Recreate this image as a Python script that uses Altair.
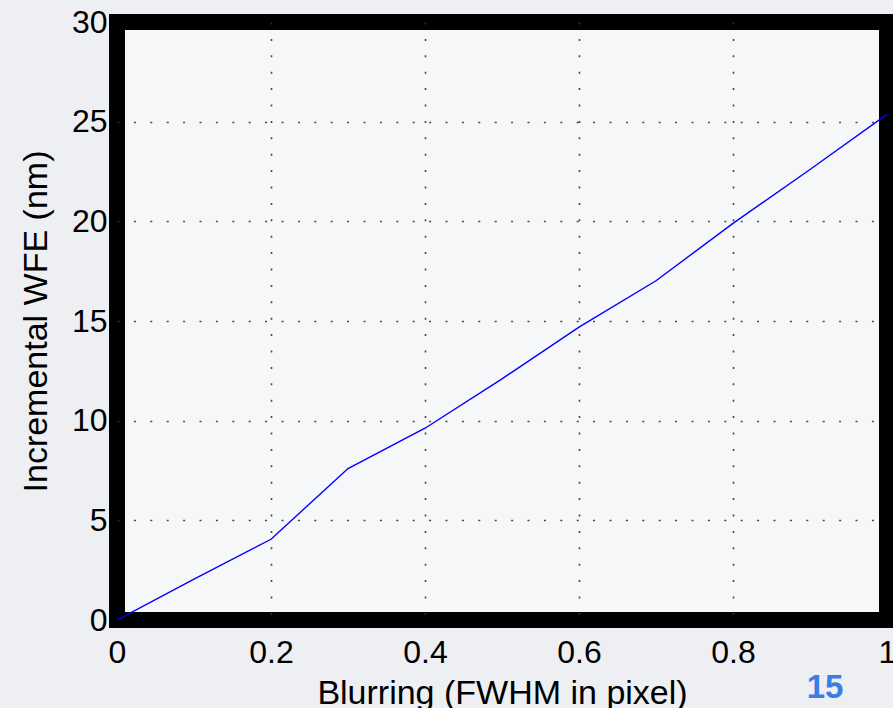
import altair as alt
import pandas as pd

blur = [0.0, 0.1, 0.2, 0.3, 0.4, 0.5, 0.6, 0.7, 0.8, 0.9, 1.0]
wfe = [0.0, 2.05, 4.05, 7.6, 9.62, 12.1, 14.69, 17.02, 19.9, 22.6, 25.37]
x_ticks = [0, 0.2, 0.4, 0.6, 0.8, 1]
y_ticks = [0, 5, 10, 15, 20, 25, 30]
page_number = ["15"]

df = pd.DataFrame({"blur": blur, "wfe": wfe})

FONT = "Liberation Sans"

x_grid_op = {"condition": {"test": "datum.value <= 0 || datum.value >= 1", "value": 0}, "value": 0.9}
y_grid_op = {"condition": {"test": "datum.value <= 0 || datum.value >= 30", "value": 0}, "value": 0.9}

line = alt.Chart(df).mark_line(color="#0000ff", strokeWidth=1.4, clip=True).encode(
    x=alt.X(
        "blur:Q",
        scale=alt.Scale(domain=[0, 1], nice=False, zero=False),
        axis=alt.Axis(
            values=x_ticks,
            format="~g",
            title="Blurring (FWHM in pixel)",
            titleFont=FONT,
            titleFontSize=34,
            titleFontWeight="normal",
            titleColor="#000000",
            titleBaseline="alphabetic",
            titleY=83,
            labelFont=FONT,
            labelFontSize=32,
            labelColor="#000000",
            labelBaseline="alphabetic",
            labelPadding=42,
            labelFlush=False,
            labelOverlap=False,
            ticks=False,
            tickSize=0,
            domain=False,
            grid=True,
            gridColor="#333333",
            gridWidth=1.6,
            gridDash=[2, 14.4],
            gridOpacity=x_grid_op,
        ),
    ),
    y=alt.Y(
        "wfe:Q",
        scale=alt.Scale(domain=[0, 30], nice=False, zero=True),
        axis=alt.Axis(
            values=y_ticks,
            title="Incremental WFE (nm)",
            titleFont=FONT,
            titleFontSize=34,
            titleFontWeight="normal",
            titleColor="#000000",
            titleAngle=-90,
            titleBaseline="alphabetic",
            titleAlign="center",
            titleX=-71,
            titleY=299,
            labelFont=FONT,
            labelFontSize=32,
            labelColor="#000000",
            labelPadding=10,
            labelFlush=False,
            labelOverlap=False,
            ticks=False,
            tickSize=0,
            domain=False,
            grid=True,
            gridColor="#333333",
            gridWidth=1.6,
            gridDash=[2, 14.4],
            gridOpacity=y_grid_op,
        ),
    ),
)

label = alt.Chart(pd.DataFrame({"t": page_number})).mark_text(
    font=FONT, fontSize=33, fontWeight="bold", color="#3b7de6",
    align="center", baseline="alphabetic",
).encode(
    text="t:N",
    x=alt.value(708),
    y=alt.value(676),
)

chart = alt.layer(line, label).properties(
    width=770,
    height=598,
    autosize=alt.AutoSizeParams(type="none"),
    padding={"left": 117, "top": 22, "right": 6, "bottom": 88},
    background="#edeff2",
).configure_view(
    stroke="#000000",
    strokeWidth=16,
    fill="#f6f7f9",
)

chart.save("out.html", embed_options={"renderer": "svg", "actions": False})
